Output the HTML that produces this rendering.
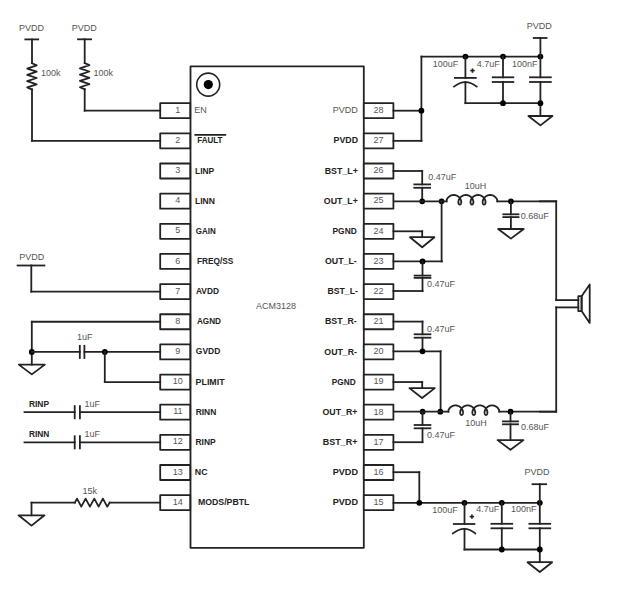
<!DOCTYPE html>
<html><head><meta charset="utf-8"><style>
html,body{margin:0;padding:0;background:#fff;width:618px;height:609px;overflow:hidden}
svg{display:block}
text{font-family:"Liberation Sans",sans-serif}
</style></head><body>
<svg width="618" height="609" viewBox="0 0 618 609" stroke="#222" stroke-linecap="square" stroke-linejoin="round">
<rect x="0" y="0" width="618" height="609" fill="#fff" stroke="none"/>
<g>
<rect x="190.5" y="66.3" width="173.3" height="481.5" fill="none" stroke-width="1.8"/>
<circle cx="208.2" cy="84.6" r="11.5" fill="none" stroke-width="1.6"/>
<circle cx="208.30" cy="84.60" r="4.6" fill="#000" stroke="none"/>
<text stroke="none" x="276.00" y="308.90" font-size="9" text-anchor="middle" fill="#555">ACM3128</text>
<rect x="160.2" y="103.20" width="30" height="15" fill="#fff" stroke-width="1.8"/>
<rect x="363.8" y="103.20" width="29.6" height="15" fill="#fff" stroke-width="1.8"/>
<text stroke="none" x="177.80" y="112.80" font-size="9" text-anchor="middle" fill="#555">1</text>
<text stroke="none" x="378.40" y="113.00" font-size="9" text-anchor="middle" fill="#555">28</text>
<text stroke="none" x="194.30" y="113.10" font-size="9" fill="#555">EN</text>
<text stroke="none" x="357.80" y="113.30" font-size="9" text-anchor="end" fill="#555">PVDD</text>
<rect x="160.2" y="133.35" width="30" height="15" fill="#fff" stroke-width="1.8"/>
<rect x="363.8" y="133.35" width="29.6" height="15" fill="#fff" stroke-width="1.8"/>
<text stroke="none" x="177.80" y="142.95" font-size="9" text-anchor="middle" fill="#555">2</text>
<text stroke="none" x="378.40" y="143.15" font-size="9" text-anchor="middle" fill="#555">27</text>
<text stroke="none" x="197.26" y="143.25" font-size="8.5" font-weight="bold" textLength="25.22" lengthAdjust="spacingAndGlyphs" fill="#222">FAULT</text>
<text stroke="none" x="333.61" y="143.45" font-size="9" font-weight="bold" textLength="24.46" lengthAdjust="spacingAndGlyphs" fill="#222">PVDD</text>
<rect x="160.2" y="163.50" width="30" height="15" fill="#fff" stroke-width="1.8"/>
<rect x="363.8" y="163.50" width="29.6" height="15" fill="#fff" stroke-width="1.8"/>
<text stroke="none" x="177.80" y="173.10" font-size="9" text-anchor="middle" fill="#555">3</text>
<text stroke="none" x="378.40" y="173.30" font-size="9" text-anchor="middle" fill="#555">26</text>
<text stroke="none" x="195.03" y="173.50" font-size="9" font-weight="bold" textLength="19.25" lengthAdjust="spacingAndGlyphs" fill="#222">LINP</text>
<text stroke="none" x="324.71" y="173.60" font-size="9" font-weight="bold" textLength="33.15" lengthAdjust="spacingAndGlyphs" fill="#222">BST_L+</text>
<rect x="160.2" y="193.65" width="30" height="15" fill="#fff" stroke-width="1.8"/>
<rect x="363.8" y="193.65" width="29.6" height="15" fill="#fff" stroke-width="1.8"/>
<text stroke="none" x="177.80" y="203.25" font-size="9" text-anchor="middle" fill="#555">4</text>
<text stroke="none" x="378.40" y="203.45" font-size="9" text-anchor="middle" fill="#555">25</text>
<text stroke="none" x="195.03" y="203.65" font-size="9" font-weight="bold" textLength="19.95" lengthAdjust="spacingAndGlyphs" fill="#222">LINN</text>
<text stroke="none" x="323.84" y="203.75" font-size="9" font-weight="bold" textLength="34.02" lengthAdjust="spacingAndGlyphs" fill="#222">OUT_L+</text>
<rect x="160.2" y="223.80" width="30" height="15" fill="#fff" stroke-width="1.8"/>
<rect x="363.8" y="223.80" width="29.6" height="15" fill="#fff" stroke-width="1.8"/>
<text stroke="none" x="177.80" y="233.40" font-size="9" text-anchor="middle" fill="#555">5</text>
<text stroke="none" x="378.40" y="233.60" font-size="9" text-anchor="middle" fill="#555">24</text>
<text stroke="none" x="195.87" y="233.80" font-size="9" font-weight="bold" textLength="19.96" lengthAdjust="spacingAndGlyphs" fill="#222">GAIN</text>
<text stroke="none" x="332.54" y="233.90" font-size="9" font-weight="bold" textLength="24.22" lengthAdjust="spacingAndGlyphs" fill="#222">PGND</text>
<rect x="160.2" y="253.95" width="30" height="15" fill="#fff" stroke-width="1.8"/>
<rect x="363.8" y="253.95" width="29.6" height="15" fill="#fff" stroke-width="1.8"/>
<text stroke="none" x="177.80" y="263.55" font-size="9" text-anchor="middle" fill="#555">6</text>
<text stroke="none" x="378.40" y="263.75" font-size="9" text-anchor="middle" fill="#555">23</text>
<text stroke="none" x="196.94" y="263.95" font-size="9" font-weight="bold" textLength="36.48" lengthAdjust="spacingAndGlyphs" fill="#222">FREQ/SS</text>
<text stroke="none" x="324.94" y="264.05" font-size="9" font-weight="bold" textLength="31.81" lengthAdjust="spacingAndGlyphs" fill="#222">OUT_L-</text>
<rect x="160.2" y="284.10" width="30" height="15" fill="#fff" stroke-width="1.8"/>
<rect x="363.8" y="284.10" width="29.6" height="15" fill="#fff" stroke-width="1.8"/>
<text stroke="none" x="177.80" y="293.70" font-size="9" text-anchor="middle" fill="#555">7</text>
<text stroke="none" x="378.40" y="293.90" font-size="9" text-anchor="middle" fill="#555">22</text>
<text stroke="none" x="195.99" y="294.10" font-size="9" font-weight="bold" textLength="22.96" lengthAdjust="spacingAndGlyphs" fill="#222">AVDD</text>
<text stroke="none" x="327.52" y="294.20" font-size="9" font-weight="bold" textLength="30.33" lengthAdjust="spacingAndGlyphs" fill="#222">BST_L-</text>
<rect x="160.2" y="314.25" width="30" height="15" fill="#fff" stroke-width="1.8"/>
<rect x="363.8" y="314.25" width="29.6" height="15" fill="#fff" stroke-width="1.8"/>
<text stroke="none" x="177.80" y="323.85" font-size="9" text-anchor="middle" fill="#555">8</text>
<text stroke="none" x="378.40" y="324.05" font-size="9" text-anchor="middle" fill="#555">21</text>
<text stroke="none" x="196.90" y="324.25" font-size="9" font-weight="bold" textLength="24.05" lengthAdjust="spacingAndGlyphs" fill="#222">AGND</text>
<text stroke="none" x="324.91" y="324.35" font-size="9" font-weight="bold" textLength="31.85" lengthAdjust="spacingAndGlyphs" fill="#222">BST_R-</text>
<rect x="160.2" y="344.40" width="30" height="15" fill="#fff" stroke-width="1.8"/>
<rect x="363.8" y="344.40" width="29.6" height="15" fill="#fff" stroke-width="1.8"/>
<text stroke="none" x="177.80" y="354.00" font-size="9" text-anchor="middle" fill="#555">9</text>
<text stroke="none" x="378.40" y="354.20" font-size="9" text-anchor="middle" fill="#555">20</text>
<text stroke="none" x="195.85" y="354.40" font-size="9" font-weight="bold" textLength="24.40" lengthAdjust="spacingAndGlyphs" fill="#222">GVDD</text>
<text stroke="none" x="324.34" y="354.50" font-size="9" font-weight="bold" textLength="32.61" lengthAdjust="spacingAndGlyphs" fill="#222">OUT_R-</text>
<rect x="160.2" y="374.55" width="30" height="15" fill="#fff" stroke-width="1.8"/>
<rect x="363.8" y="374.55" width="29.6" height="15" fill="#fff" stroke-width="1.8"/>
<text stroke="none" x="177.80" y="384.15" font-size="9" text-anchor="middle" fill="#555">10</text>
<text stroke="none" x="378.40" y="384.35" font-size="9" text-anchor="middle" fill="#555">19</text>
<text stroke="none" x="195.61" y="384.55" font-size="9" font-weight="bold" textLength="28.98" lengthAdjust="spacingAndGlyphs" fill="#222">PLIMIT</text>
<text stroke="none" x="331.85" y="384.65" font-size="9" font-weight="bold" textLength="23.80" lengthAdjust="spacingAndGlyphs" fill="#222">PGND</text>
<rect x="160.2" y="404.70" width="30" height="15" fill="#fff" stroke-width="1.8"/>
<rect x="363.8" y="404.70" width="29.6" height="15" fill="#fff" stroke-width="1.8"/>
<text stroke="none" x="177.80" y="414.30" font-size="9" text-anchor="middle" fill="#555">11</text>
<text stroke="none" x="378.40" y="414.50" font-size="9" text-anchor="middle" fill="#555">18</text>
<text stroke="none" x="195.63" y="414.70" font-size="9" font-weight="bold" textLength="20.63" lengthAdjust="spacingAndGlyphs" fill="#222">RINN</text>
<text stroke="none" x="322.54" y="414.80" font-size="9" font-weight="bold" textLength="34.92" lengthAdjust="spacingAndGlyphs" fill="#222">OUT_R+</text>
<rect x="160.2" y="434.85" width="30" height="15" fill="#fff" stroke-width="1.8"/>
<rect x="363.8" y="434.85" width="29.6" height="15" fill="#fff" stroke-width="1.8"/>
<text stroke="none" x="177.80" y="444.45" font-size="9" text-anchor="middle" fill="#555">12</text>
<text stroke="none" x="378.40" y="444.65" font-size="9" text-anchor="middle" fill="#555">17</text>
<text stroke="none" x="195.53" y="444.85" font-size="9" font-weight="bold" textLength="20.15" lengthAdjust="spacingAndGlyphs" fill="#222">RINP</text>
<text stroke="none" x="322.80" y="444.95" font-size="9" font-weight="bold" textLength="34.67" lengthAdjust="spacingAndGlyphs" fill="#222">BST_R+</text>
<rect x="160.2" y="465.00" width="30" height="15" fill="#fff" stroke-width="1.8"/>
<rect x="363.8" y="465.00" width="29.6" height="15" fill="#fff" stroke-width="1.8"/>
<text stroke="none" x="177.80" y="474.60" font-size="9" text-anchor="middle" fill="#555">13</text>
<text stroke="none" x="378.40" y="474.80" font-size="9" text-anchor="middle" fill="#555">16</text>
<text stroke="none" x="194.81" y="475.00" font-size="9" font-weight="bold" textLength="12.73" lengthAdjust="spacingAndGlyphs" fill="#222">NC</text>
<text stroke="none" x="332.69" y="475.10" font-size="9" font-weight="bold" textLength="25.30" lengthAdjust="spacingAndGlyphs" fill="#222">PVDD</text>
<rect x="160.2" y="495.15" width="30" height="15" fill="#fff" stroke-width="1.8"/>
<rect x="363.8" y="495.15" width="29.6" height="15" fill="#fff" stroke-width="1.8"/>
<text stroke="none" x="177.80" y="504.75" font-size="9" text-anchor="middle" fill="#555">14</text>
<text stroke="none" x="378.40" y="504.95" font-size="9" text-anchor="middle" fill="#555">15</text>
<text stroke="none" x="197.91" y="505.15" font-size="9" font-weight="bold" textLength="51.56" lengthAdjust="spacingAndGlyphs" fill="#222">MODS/PBTL</text>
<text stroke="none" x="332.69" y="505.25" font-size="9" font-weight="bold" textLength="25.30" lengthAdjust="spacingAndGlyphs" fill="#222">PVDD</text>
<line x1="194.40" y1="134.90" x2="226.20" y2="134.90" stroke-width="1.6" stroke-linecap="butt"/>
<text stroke="none" x="19.00" y="30.60" font-size="9" fill="#555">PVDD</text>
<line x1="24.40" y1="39.40" x2="39.10" y2="39.40" stroke-width="1.8" stroke-linecap="butt"/>
<line x1="32.00" y1="39.40" x2="32.00" y2="63.20" stroke-width="1.8"/>
<polyline points="32.00,63.20 36.70,65.30 27.20,68.55 36.70,71.70 27.20,74.85 36.70,78.00 27.20,81.15 36.70,84.30 27.20,87.45 32.00,89.50" fill="none" stroke-width="1.8"/>
<line x1="32.00" y1="89.50" x2="32.00" y2="140.85" stroke-width="1.8"/>
<line x1="32.00" y1="140.85" x2="160.20" y2="140.85" stroke-width="1.8"/>
<text stroke="none" x="40.90" y="75.90" font-size="9" fill="#555">100k</text>
<text stroke="none" x="71.80" y="30.60" font-size="9" fill="#555">PVDD</text>
<line x1="77.10" y1="39.30" x2="92.00" y2="39.30" stroke-width="1.8" stroke-linecap="butt"/>
<line x1="84.70" y1="39.30" x2="84.70" y2="63.00" stroke-width="1.8"/>
<polyline points="84.70,63.00 89.40,65.10 79.90,68.35 89.40,71.50 79.90,74.65 89.40,77.80 79.90,80.95 89.40,84.10 79.90,87.25 84.70,89.30" fill="none" stroke-width="1.8"/>
<line x1="84.70" y1="89.30" x2="84.70" y2="110.70" stroke-width="1.8"/>
<line x1="84.70" y1="110.70" x2="160.20" y2="110.70" stroke-width="1.8"/>
<text stroke="none" x="93.50" y="76.00" font-size="9" fill="#555">100k</text>
<text stroke="none" x="19.20" y="260.30" font-size="9" fill="#555">PVDD</text>
<line x1="16.70" y1="265.50" x2="45.30" y2="265.50" stroke-width="1.8" stroke-linecap="butt"/>
<line x1="31.30" y1="265.50" x2="31.30" y2="291.60" stroke-width="1.8"/>
<line x1="31.30" y1="291.60" x2="160.20" y2="291.60" stroke-width="1.8"/>
<line x1="31.80" y1="321.75" x2="160.20" y2="321.75" stroke-width="1.8"/>
<line x1="31.80" y1="321.75" x2="31.80" y2="364.60" stroke-width="1.8"/>
<polygon points="18.80,364.60 44.80,364.60 31.80,374.40" fill="none" stroke-width="1.8"/>
<circle cx="31.80" cy="351.90" r="2.9" fill="#000" stroke="none"/>
<line x1="31.80" y1="351.90" x2="79.80" y2="351.90" stroke-width="1.8"/>
<line x1="79.80" y1="344.90" x2="79.80" y2="358.90" stroke-width="1.8" stroke-linecap="butt"/>
<line x1="84.40" y1="344.90" x2="84.40" y2="358.90" stroke-width="1.8" stroke-linecap="butt"/>
<line x1="84.40" y1="351.90" x2="160.20" y2="351.90" stroke-width="1.8"/>
<circle cx="104.80" cy="351.90" r="2.9" fill="#000" stroke="none"/>
<line x1="104.80" y1="351.90" x2="104.80" y2="382.05" stroke-width="1.8"/>
<line x1="104.80" y1="382.05" x2="160.20" y2="382.05" stroke-width="1.8"/>
<text stroke="none" x="77.00" y="339.70" font-size="9" fill="#555">1uF</text>
<text stroke="none" x="28.94" y="407.30" font-size="9" font-weight="bold" textLength="20.05" lengthAdjust="spacingAndGlyphs" fill="#222">RINP</text>
<line x1="24.50" y1="412.20" x2="74.70" y2="412.20" stroke-width="1.8"/>
<line x1="74.70" y1="405.20" x2="74.70" y2="419.20" stroke-width="1.8" stroke-linecap="butt"/>
<line x1="79.90" y1="405.20" x2="79.90" y2="419.20" stroke-width="1.8" stroke-linecap="butt"/>
<line x1="79.90" y1="412.20" x2="160.20" y2="412.20" stroke-width="1.8"/>
<text stroke="none" x="84.40" y="407.00" font-size="9" fill="#555">1uF</text>
<text stroke="none" x="28.94" y="437.45" font-size="9" font-weight="bold" textLength="20.32" lengthAdjust="spacingAndGlyphs" fill="#222">RINN</text>
<line x1="24.50" y1="442.35" x2="74.70" y2="442.35" stroke-width="1.8"/>
<line x1="74.70" y1="435.35" x2="74.70" y2="449.35" stroke-width="1.8" stroke-linecap="butt"/>
<line x1="79.90" y1="435.35" x2="79.90" y2="449.35" stroke-width="1.8" stroke-linecap="butt"/>
<line x1="79.90" y1="442.35" x2="160.20" y2="442.35" stroke-width="1.8"/>
<text stroke="none" x="84.40" y="437.15" font-size="9" fill="#555">1uF</text>
<line x1="31.50" y1="502.65" x2="74.90" y2="502.65" stroke-width="1.8"/>
<polyline points="74.90,502.65 77.00,498.65 81.30,506.65 85.60,498.65 89.90,506.65 94.30,498.65 98.60,506.65 102.90,498.65 107.20,506.65 109.70,502.65" fill="none" stroke-width="1.8"/>
<line x1="109.70" y1="502.65" x2="160.20" y2="502.65" stroke-width="1.8"/>
<line x1="31.50" y1="502.65" x2="31.50" y2="515.30" stroke-width="1.8"/>
<polygon points="18.50,515.30 44.50,515.30 31.50,525.60" fill="none" stroke-width="1.8"/>
<text stroke="none" x="82.60" y="494.20" font-size="9" fill="#555">15k</text>
<line x1="393.50" y1="110.70" x2="421.40" y2="110.70" stroke-width="1.8"/>
<line x1="393.50" y1="140.85" x2="421.40" y2="140.85" stroke-width="1.8"/>
<line x1="421.40" y1="140.85" x2="421.40" y2="56.60" stroke-width="1.8"/>
<circle cx="421.40" cy="110.70" r="2.9" fill="#000" stroke="none"/>
<line x1="421.40" y1="56.60" x2="540.40" y2="56.60" stroke-width="1.8"/>
<circle cx="465.40" cy="56.60" r="2.9" fill="#000" stroke="none"/>
<circle cx="503.00" cy="56.60" r="2.9" fill="#000" stroke="none"/>
<circle cx="540.40" cy="56.60" r="2.9" fill="#000" stroke="none"/>
<line x1="465.40" y1="56.60" x2="465.40" y2="77.90" stroke-width="1.8"/>
<line x1="454.00" y1="77.90" x2="476.70" y2="77.90" stroke-width="1.8" stroke-linecap="butt"/>
<path d="M454,86.6 Q465.4,77.6 476.7,86.6" fill="none" stroke-width="1.8"/>
<line x1="465.40" y1="82.10" x2="465.40" y2="103.20" stroke-width="1.8"/>
<line x1="465.40" y1="103.20" x2="540.40" y2="103.20" stroke-width="1.8"/>
<line x1="470.30" y1="70.60" x2="474.70" y2="70.60" stroke-width="1.6" stroke-linecap="butt"/>
<line x1="472.50" y1="68.40" x2="472.50" y2="72.80" stroke-width="1.6" stroke-linecap="butt"/>
<line x1="503.00" y1="56.60" x2="503.00" y2="77.30" stroke-width="1.8"/>
<line x1="491.80" y1="77.30" x2="514.20" y2="77.30" stroke-width="1.8" stroke-linecap="butt"/>
<line x1="491.80" y1="82.00" x2="514.20" y2="82.00" stroke-width="1.8" stroke-linecap="butt"/>
<line x1="503.00" y1="82.00" x2="503.00" y2="103.20" stroke-width="1.8"/>
<circle cx="503.00" cy="103.20" r="2.9" fill="#000" stroke="none"/>
<line x1="532.80" y1="38.00" x2="547.50" y2="38.00" stroke-width="1.8" stroke-linecap="butt"/>
<line x1="540.40" y1="38.00" x2="540.40" y2="77.30" stroke-width="1.8"/>
<line x1="529.10" y1="77.30" x2="551.70" y2="77.30" stroke-width="1.8" stroke-linecap="butt"/>
<line x1="529.10" y1="82.00" x2="551.70" y2="82.00" stroke-width="1.8" stroke-linecap="butt"/>
<line x1="540.40" y1="82.00" x2="540.40" y2="116.00" stroke-width="1.8"/>
<circle cx="540.40" cy="103.20" r="2.9" fill="#000" stroke="none"/>
<polygon points="528.40,116.00 552.40,116.00 540.40,125.40" fill="none" stroke-width="1.8"/>
<text stroke="none" x="526.80" y="29.20" font-size="9" fill="#555">PVDD</text>
<text stroke="none" x="432.70" y="66.50" font-size="9" fill="#555">100uF</text>
<text stroke="none" x="499.80" y="66.70" font-size="9" text-anchor="end" fill="#555">4.7uF</text>
<text stroke="none" x="512.00" y="66.90" font-size="9" fill="#555">100nF</text>
<line x1="393.50" y1="171.00" x2="422.20" y2="171.00" stroke-width="1.8"/>
<line x1="422.20" y1="171.00" x2="422.20" y2="184.40" stroke-width="1.8"/>
<line x1="413.40" y1="184.40" x2="431.00" y2="184.40" stroke-width="1.8" stroke-linecap="butt"/>
<line x1="413.40" y1="187.80" x2="431.00" y2="187.80" stroke-width="1.8" stroke-linecap="butt"/>
<line x1="422.20" y1="187.80" x2="422.20" y2="201.30" stroke-width="1.8"/>
<circle cx="422.20" cy="201.30" r="2.9" fill="#000" stroke="none"/>
<circle cx="441.60" cy="201.30" r="2.9" fill="#000" stroke="none"/>
<polyline points="446.79,201.30 446.69,199.80 446.80,199.54 446.92,199.27 447.06,199.01 447.21,198.75 447.37,198.50 447.54,198.25 447.72,198.00 447.92,197.76 448.12,197.52 448.34,197.29 448.57,197.07 448.80,196.86 449.05,196.65 449.30,196.46 449.57,196.28 449.84,196.10 450.12,195.94 450.41,195.79 450.70,195.65 451.00,195.52 451.30,195.41 451.61,195.31 451.93,195.22 452.24,195.15 452.56,195.09 452.89,195.05 453.21,195.02 453.54,195.00 453.86,195.00 454.19,195.01 454.52,195.04 454.84,195.09 455.16,195.14 455.48,195.21 455.79,195.30 456.10,195.39 456.41,195.51 456.71,195.63 457.00,195.77 457.29,195.92 457.57,196.08 457.84,196.25 458.11,196.43 458.37,196.63 458.61,196.83 458.85,197.04 459.08,197.26 459.30,197.49 459.50,197.72 459.70,197.96 459.88,198.21 460.06,198.46 460.22,198.72 460.37,198.97 460.51,199.24 460.63,199.50 460.75,199.76 460.85,200.03 460.94,200.29 461.02,200.55 461.08,200.81 461.14,201.07 461.18,201.32 461.21,201.57 461.23,201.81 461.24,202.05 461.24,202.28 461.23,202.50 461.20,202.71 461.17,202.92 461.13,203.11 461.08,203.30 461.02,203.47 460.96,203.64 460.88,203.79 460.80,203.93 460.72,204.06 460.63,204.17 460.53,204.28 460.43,204.37 460.32,204.44 460.22,204.50 460.11,204.55 459.99,204.58 459.88,204.60 459.77,204.60 459.65,204.59 459.54,204.56 459.43,204.52 459.32,204.47 459.22,204.40 459.11,204.32 459.01,204.22 458.92,204.11 458.83,203.99 458.75,203.85 458.67,203.71 458.61,203.55 458.54,203.38 458.49,203.19 458.45,203.00 458.41,202.80 458.38,202.59 458.37,202.37 458.36,202.15 458.36,201.91 458.38,201.67 458.41,201.43 458.44,201.18 458.49,200.92 458.55,200.66 458.63,200.40 458.71,200.14 458.81,199.88 458.92,199.61 459.04,199.35 459.17,199.09 459.32,198.83 459.47,198.57 459.64,198.32 459.82,198.07 460.01,197.82 460.21,197.59 460.43,197.36 460.65,197.13 460.88,196.92 461.13,196.71 461.38,196.51 461.64,196.33 461.91,196.15 462.19,195.98 462.47,195.83 462.76,195.69 463.06,195.56 463.37,195.44 463.67,195.34 463.99,195.25 464.30,195.17 464.62,195.11 464.95,195.06 465.27,195.02 465.60,195.01 465.92,195.00 466.25,195.01 466.57,195.03 466.90,195.07 467.22,195.12 467.54,195.19 467.85,195.27 468.17,195.37 468.47,195.47 468.77,195.59 469.07,195.73 469.36,195.87 469.64,196.03 469.92,196.20 470.18,196.38 470.44,196.57 470.69,196.77 470.93,196.98 471.16,197.20 471.38,197.42 471.59,197.65 471.79,197.89 471.98,198.14 472.16,198.39 472.32,198.64 472.48,198.90 472.62,199.16 472.75,199.42 472.87,199.69 472.97,199.95 473.06,200.21 473.15,200.48 473.22,200.74 473.27,200.99 473.32,201.25 473.35,201.50 473.38,201.74 473.39,201.98 473.39,202.21 473.38,202.44 473.36,202.65 473.33,202.86 473.29,203.06 473.25,203.25 473.19,203.43 473.13,203.59 473.05,203.75 472.98,203.89 472.89,204.02 472.80,204.14 472.71,204.25 472.61,204.34 472.50,204.42 472.40,204.48 472.29,204.53 472.18,204.57 472.06,204.59 471.95,204.60 471.84,204.59 471.72,204.57 471.61,204.53 471.50,204.48 471.40,204.42 471.29,204.34 471.19,204.25 471.10,204.14 471.01,204.02 470.92,203.89 470.85,203.75 470.77,203.59 470.71,203.43 470.65,203.25 470.61,203.06 470.57,202.86 470.54,202.65 470.52,202.44 470.51,202.21 470.51,201.98 470.52,201.74 470.55,201.50 470.58,201.25 470.63,200.99 470.68,200.74 470.75,200.48 470.84,200.21 470.93,199.95 471.03,199.69 471.15,199.42 471.28,199.16 471.42,198.90 471.58,198.64 471.74,198.39 471.92,198.14 472.11,197.89 472.31,197.65 472.52,197.42 472.74,197.20 472.97,196.98 473.21,196.77 473.46,196.57 473.72,196.38 473.98,196.20 474.26,196.03 474.54,195.87 474.83,195.73 475.13,195.59 475.43,195.47 475.73,195.37 476.05,195.27 476.36,195.19 476.68,195.12 477.00,195.07 477.33,195.03 477.65,195.01 477.98,195.00 478.30,195.01 478.63,195.02 478.95,195.06 479.28,195.11 479.60,195.17 479.91,195.25 480.23,195.34 480.53,195.44 480.84,195.56 481.14,195.69 481.43,195.83 481.71,195.98 481.99,196.15 482.26,196.33 482.52,196.51 482.77,196.71 483.02,196.92 483.25,197.13 483.47,197.36 483.69,197.59 483.89,197.82 484.08,198.07 484.26,198.32 484.43,198.57 484.58,198.83 484.73,199.09 484.86,199.35 484.98,199.61 485.09,199.88 485.19,200.14 485.27,200.40 485.35,200.66 485.41,200.92 485.46,201.18 485.49,201.43 485.52,201.67 485.54,201.91 485.54,202.15 485.53,202.37 485.52,202.59 485.49,202.80 485.45,203.00 485.41,203.19 485.36,203.38 485.29,203.55 485.23,203.71 485.15,203.85 485.07,203.99 484.98,204.11 484.89,204.22 484.79,204.32 484.68,204.40 484.58,204.47 484.47,204.52 484.36,204.56 484.25,204.59 484.13,204.60 484.02,204.60 483.91,204.58 483.79,204.55 483.68,204.50 483.58,204.44 483.47,204.37 483.37,204.28 483.27,204.17 483.18,204.06 483.10,203.93 483.02,203.79 482.94,203.64 482.88,203.47 482.82,203.30 482.77,203.11 482.73,202.92 482.70,202.71 482.67,202.50 482.66,202.28 482.66,202.05 482.67,201.81 482.69,201.57 482.72,201.32 482.76,201.07 482.82,200.81 482.88,200.55 482.96,200.29 483.05,200.03 483.15,199.76 483.27,199.50 483.39,199.24 483.53,198.97 483.68,198.72 483.84,198.46 484.02,198.21 484.20,197.96 484.40,197.72 484.60,197.49 484.82,197.26 485.05,197.04 485.29,196.83 485.53,196.63 485.79,196.43 486.06,196.25 486.33,196.08 486.61,195.92 486.90,195.77 487.19,195.63 487.49,195.51 487.80,195.39 488.11,195.30 488.42,195.21 488.74,195.14 489.06,195.09 489.38,195.04 489.71,195.01 490.04,195.00 490.36,195.00 490.69,195.02 491.01,195.05 491.34,195.09 491.66,195.15 491.97,195.22 492.29,195.31 492.60,195.41 492.90,195.52 493.20,195.65 493.49,195.79 493.78,195.94 494.06,196.10 494.33,196.28 494.60,196.46 494.85,196.65 495.10,196.86 495.33,197.07 495.56,197.29 495.78,197.52 495.98,197.76 496.18,198.00 496.36,198.25 496.53,198.50 496.69,198.75 496.84,199.01 496.98,199.27 497.10,199.54 497.21,199.80 497.11,201.30" fill="none" stroke-width="1.8"/>
<line x1="393.50" y1="201.30" x2="446.79" y2="201.30" stroke-width="1.8" stroke-linecap="butt"/>
<line x1="497.11" y1="201.30" x2="556.20" y2="201.30" stroke-width="1.8" stroke-linecap="butt"/>
<line x1="540.00" y1="201.30" x2="556.20" y2="201.30" stroke-width="1.8"/>
<circle cx="510.90" cy="201.30" r="2.9" fill="#000" stroke="none"/>
<line x1="510.90" y1="201.30" x2="510.90" y2="214.30" stroke-width="1.8"/>
<line x1="502.40" y1="214.30" x2="519.40" y2="214.30" stroke-width="1.8" stroke-linecap="butt"/>
<line x1="502.40" y1="217.10" x2="519.40" y2="217.10" stroke-width="1.8" stroke-linecap="butt"/>
<line x1="510.90" y1="217.10" x2="510.90" y2="229.00" stroke-width="1.8"/>
<polygon points="498.10,229.00 523.70,229.00 510.90,238.60" fill="none" stroke-width="1.8"/>
<text stroke="none" x="428.20" y="179.50" font-size="9" fill="#555">0.47uF</text>
<text stroke="none" x="464.80" y="189.20" font-size="9" fill="#555">10uH</text>
<text stroke="none" x="520.80" y="219.30" font-size="9" fill="#555">0.68uF</text>
<line x1="393.50" y1="231.30" x2="422.20" y2="231.30" stroke-width="1.8"/>
<line x1="422.20" y1="231.30" x2="422.20" y2="237.20" stroke-width="1.8"/>
<polygon points="410.00,237.20 434.40,237.20 422.20,247.30" fill="none" stroke-width="1.8"/>
<line x1="393.50" y1="261.40" x2="442.00" y2="261.40" stroke-width="1.8"/>
<circle cx="422.50" cy="261.40" r="2.9" fill="#000" stroke="none"/>
<line x1="441.60" y1="261.40" x2="441.60" y2="201.30" stroke-width="1.8"/>
<line x1="422.50" y1="261.40" x2="422.50" y2="275.60" stroke-width="1.8"/>
<line x1="413.70" y1="275.60" x2="431.30" y2="275.60" stroke-width="1.8" stroke-linecap="butt"/>
<line x1="413.70" y1="277.90" x2="431.30" y2="277.90" stroke-width="1.8" stroke-linecap="butt"/>
<line x1="422.50" y1="277.90" x2="422.50" y2="291.00" stroke-width="1.8"/>
<line x1="393.50" y1="291.00" x2="422.50" y2="291.00" stroke-width="1.8"/>
<text stroke="none" x="427.10" y="286.70" font-size="9" fill="#555">0.47uF</text>
<line x1="556.20" y1="201.30" x2="556.20" y2="300.10" stroke-width="1.8"/>
<line x1="556.20" y1="300.10" x2="578.30" y2="300.10" stroke-width="1.8"/>
<line x1="556.20" y1="307.40" x2="578.30" y2="307.40" stroke-width="1.8"/>
<line x1="556.20" y1="307.40" x2="556.20" y2="411.70" stroke-width="1.8"/>
<rect x="578.3" y="296.2" width="3.3" height="14.9" fill="none" stroke-width="1.8"/>
<polygon points="581.60,296.20 589.70,284.40 589.70,322.90 581.60,311.10" fill="none" stroke-width="1.8"/>
<line x1="393.50" y1="321.60" x2="422.50" y2="321.60" stroke-width="1.8"/>
<line x1="422.50" y1="321.60" x2="422.50" y2="334.30" stroke-width="1.8"/>
<line x1="413.70" y1="334.30" x2="431.30" y2="334.30" stroke-width="1.8" stroke-linecap="butt"/>
<line x1="413.70" y1="337.70" x2="431.30" y2="337.70" stroke-width="1.8" stroke-linecap="butt"/>
<line x1="422.50" y1="337.70" x2="422.50" y2="351.30" stroke-width="1.8"/>
<line x1="393.50" y1="351.30" x2="440.60" y2="351.30" stroke-width="1.8"/>
<circle cx="422.50" cy="351.30" r="2.9" fill="#000" stroke="none"/>
<line x1="440.60" y1="351.30" x2="440.60" y2="411.70" stroke-width="1.8"/>
<text stroke="none" x="427.10" y="331.50" font-size="9" fill="#555">0.47uF</text>
<line x1="393.50" y1="382.05" x2="422.20" y2="382.05" stroke-width="1.8"/>
<line x1="422.20" y1="382.05" x2="422.20" y2="388.10" stroke-width="1.8"/>
<polygon points="409.40,388.10 434.80,388.10 422.10,398.00" fill="none" stroke-width="1.8"/>
<circle cx="422.60" cy="411.70" r="2.9" fill="#000" stroke="none"/>
<circle cx="440.30" cy="411.70" r="2.9" fill="#000" stroke="none"/>
<polyline points="448.55,411.70 448.45,410.20 448.56,409.94 448.69,409.67 448.82,409.41 448.97,409.15 449.13,408.90 449.31,408.65 449.49,408.40 449.68,408.16 449.89,407.92 450.11,407.69 450.33,407.47 450.57,407.26 450.82,407.05 451.07,406.86 451.34,406.68 451.61,406.50 451.89,406.34 452.18,406.19 452.47,406.05 452.77,405.92 453.07,405.81 453.38,405.71 453.70,405.62 454.02,405.55 454.34,405.49 454.66,405.45 454.99,405.42 455.31,405.40 455.64,405.40 455.97,405.41 456.29,405.44 456.62,405.49 456.94,405.54 457.26,405.61 457.57,405.70 457.88,405.79 458.19,405.91 458.49,406.03 458.78,406.17 459.07,406.32 459.35,406.48 459.63,406.65 459.89,406.83 460.15,407.03 460.40,407.23 460.63,407.44 460.86,407.66 461.08,407.89 461.29,408.12 461.48,408.36 461.67,408.61 461.84,408.86 462.00,409.12 462.15,409.37 462.29,409.64 462.42,409.90 462.53,410.16 462.64,410.43 462.73,410.69 462.81,410.95 462.87,411.21 462.93,411.47 462.97,411.72 463.00,411.97 463.02,412.21 463.03,412.45 463.03,412.68 463.02,412.90 463.00,413.11 462.96,413.32 462.92,413.51 462.87,413.70 462.82,413.87 462.75,414.04 462.68,414.19 462.60,414.33 462.51,414.46 462.42,414.57 462.33,414.68 462.23,414.77 462.12,414.84 462.01,414.90 461.90,414.95 461.79,414.98 461.68,415.00 461.57,415.00 461.45,414.99 461.34,414.96 461.23,414.92 461.12,414.87 461.02,414.80 460.92,414.72 460.82,414.62 460.72,414.51 460.64,414.39 460.55,414.25 460.48,414.11 460.41,413.95 460.35,413.78 460.30,413.59 460.25,413.40 460.22,413.20 460.19,412.99 460.17,412.77 460.17,412.55 460.17,412.31 460.19,412.07 460.22,411.83 460.25,411.58 460.30,411.32 460.36,411.06 460.44,410.80 460.52,410.54 460.62,410.28 460.73,410.01 460.85,409.75 460.98,409.49 461.13,409.23 461.29,408.97 461.46,408.72 461.64,408.47 461.83,408.22 462.03,407.99 462.24,407.76 462.47,407.53 462.70,407.32 462.95,407.11 463.20,406.91 463.46,406.73 463.73,406.55 464.01,406.38 464.29,406.23 464.58,406.09 464.88,405.96 465.19,405.84 465.50,405.74 465.81,405.65 466.13,405.57 466.45,405.51 466.77,405.46 467.09,405.42 467.42,405.41 467.75,405.40 468.07,405.41 468.40,405.43 468.72,405.47 469.05,405.52 469.36,405.59 469.68,405.67 469.99,405.77 470.30,405.87 470.60,405.99 470.90,406.13 471.19,406.27 471.47,406.43 471.75,406.60 472.02,406.78 472.28,406.97 472.53,407.17 472.77,407.38 473.00,407.60 473.22,407.82 473.43,408.05 473.63,408.29 473.82,408.54 473.99,408.79 474.16,409.04 474.31,409.30 474.46,409.56 474.59,409.82 474.70,410.09 474.81,410.35 474.90,410.61 474.98,410.88 475.05,411.14 475.11,411.39 475.16,411.65 475.19,411.90 475.22,412.14 475.23,412.38 475.23,412.61 475.22,412.84 475.20,413.05 475.17,413.26 475.14,413.46 475.09,413.65 475.03,413.83 474.97,413.99 474.90,414.15 474.82,414.29 474.74,414.42 474.65,414.54 474.55,414.65 474.46,414.74 474.35,414.82 474.25,414.88 474.14,414.93 474.03,414.97 473.91,414.99 473.80,415.00 473.69,414.99 473.57,414.97 473.46,414.93 473.35,414.88 473.25,414.82 473.14,414.74 473.05,414.65 472.95,414.54 472.86,414.42 472.78,414.29 472.70,414.15 472.63,413.99 472.57,413.83 472.51,413.65 472.46,413.46 472.43,413.26 472.40,413.05 472.38,412.84 472.37,412.61 472.37,412.38 472.38,412.14 472.41,411.90 472.44,411.65 472.49,411.39 472.55,411.14 472.62,410.88 472.70,410.61 472.79,410.35 472.90,410.09 473.01,409.82 473.14,409.56 473.29,409.30 473.44,409.04 473.61,408.79 473.78,408.54 473.97,408.29 474.17,408.05 474.38,407.82 474.60,407.60 474.83,407.38 475.07,407.17 475.32,406.97 475.58,406.78 475.85,406.60 476.13,406.43 476.41,406.27 476.70,406.13 477.00,405.99 477.30,405.87 477.61,405.77 477.92,405.67 478.24,405.59 478.55,405.52 478.88,405.47 479.20,405.43 479.53,405.41 479.85,405.40 480.18,405.41 480.51,405.42 480.83,405.46 481.15,405.51 481.47,405.57 481.79,405.65 482.10,405.74 482.41,405.84 482.72,405.96 483.02,406.09 483.31,406.23 483.59,406.38 483.87,406.55 484.14,406.73 484.40,406.91 484.65,407.11 484.90,407.32 485.13,407.53 485.36,407.76 485.57,407.99 485.77,408.22 485.96,408.47 486.14,408.72 486.31,408.97 486.47,409.23 486.62,409.49 486.75,409.75 486.87,410.01 486.98,410.28 487.08,410.54 487.16,410.80 487.24,411.06 487.30,411.32 487.35,411.58 487.38,411.83 487.41,412.07 487.43,412.31 487.43,412.55 487.43,412.77 487.41,412.99 487.38,413.20 487.35,413.40 487.30,413.59 487.25,413.78 487.19,413.95 487.12,414.11 487.05,414.25 486.96,414.39 486.88,414.51 486.78,414.62 486.68,414.72 486.58,414.80 486.48,414.87 486.37,414.92 486.26,414.96 486.15,414.99 486.03,415.00 485.92,415.00 485.81,414.98 485.70,414.95 485.59,414.90 485.48,414.84 485.37,414.77 485.27,414.68 485.18,414.57 485.09,414.46 485.00,414.33 484.92,414.19 484.85,414.04 484.78,413.87 484.73,413.70 484.68,413.51 484.64,413.32 484.60,413.11 484.58,412.90 484.57,412.68 484.57,412.45 484.58,412.21 484.60,411.97 484.63,411.72 484.67,411.47 484.73,411.21 484.79,410.95 484.87,410.69 484.96,410.43 485.07,410.16 485.18,409.90 485.31,409.64 485.45,409.37 485.60,409.12 485.76,408.86 485.93,408.61 486.12,408.36 486.31,408.12 486.52,407.89 486.74,407.66 486.97,407.44 487.20,407.23 487.45,407.03 487.71,406.83 487.97,406.65 488.25,406.48 488.53,406.32 488.82,406.17 489.11,406.03 489.41,405.91 489.72,405.79 490.03,405.70 490.34,405.61 490.66,405.54 490.98,405.49 491.31,405.44 491.63,405.41 491.96,405.40 492.29,405.40 492.61,405.42 492.94,405.45 493.26,405.49 493.58,405.55 493.90,405.62 494.22,405.71 494.53,405.81 494.83,405.92 495.13,406.05 495.42,406.19 495.71,406.34 495.99,406.50 496.26,406.68 496.53,406.86 496.78,407.05 497.03,407.26 497.27,407.47 497.49,407.69 497.71,407.92 497.92,408.16 498.11,408.40 498.29,408.65 498.47,408.90 498.63,409.15 498.78,409.41 498.91,409.67 499.04,409.94 499.15,410.20 499.05,411.70" fill="none" stroke-width="1.8"/>
<line x1="393.50" y1="411.70" x2="448.55" y2="411.70" stroke-width="1.8" stroke-linecap="butt"/>
<line x1="499.05" y1="411.70" x2="556.20" y2="411.70" stroke-width="1.8" stroke-linecap="butt"/>
<line x1="540.00" y1="411.70" x2="556.20" y2="411.70" stroke-width="1.8"/>
<circle cx="510.50" cy="411.70" r="2.9" fill="#000" stroke="none"/>
<line x1="510.50" y1="411.70" x2="510.50" y2="421.40" stroke-width="1.8"/>
<line x1="502.10" y1="421.40" x2="518.90" y2="421.40" stroke-width="1.8" stroke-linecap="butt"/>
<line x1="502.10" y1="424.30" x2="518.90" y2="424.30" stroke-width="1.8" stroke-linecap="butt"/>
<line x1="510.50" y1="424.30" x2="510.50" y2="440.10" stroke-width="1.8"/>
<polygon points="497.60,440.10 523.40,440.10 510.50,449.80" fill="none" stroke-width="1.8"/>
<line x1="422.50" y1="411.70" x2="422.50" y2="425.00" stroke-width="1.8"/>
<line x1="413.70" y1="425.00" x2="431.30" y2="425.00" stroke-width="1.8" stroke-linecap="butt"/>
<line x1="413.70" y1="428.30" x2="431.30" y2="428.30" stroke-width="1.8" stroke-linecap="butt"/>
<line x1="422.50" y1="428.30" x2="422.50" y2="442.20" stroke-width="1.8"/>
<line x1="393.50" y1="442.20" x2="422.50" y2="442.20" stroke-width="1.8"/>
<text stroke="none" x="427.10" y="437.70" font-size="9" fill="#555">0.47uF</text>
<text stroke="none" x="465.30" y="425.70" font-size="9" fill="#555">10uH</text>
<text stroke="none" x="521.10" y="429.50" font-size="9" fill="#555">0.68uF</text>
<line x1="393.50" y1="472.20" x2="419.30" y2="472.20" stroke-width="1.8"/>
<line x1="419.30" y1="472.20" x2="419.30" y2="502.80" stroke-width="1.8"/>
<line x1="393.50" y1="502.80" x2="539.80" y2="502.80" stroke-width="1.8"/>
<circle cx="419.30" cy="502.80" r="2.9" fill="#000" stroke="none"/>
<circle cx="464.50" cy="502.80" r="2.9" fill="#000" stroke="none"/>
<circle cx="501.80" cy="502.80" r="2.9" fill="#000" stroke="none"/>
<circle cx="539.80" cy="502.80" r="2.9" fill="#000" stroke="none"/>
<line x1="464.50" y1="502.80" x2="464.50" y2="524.00" stroke-width="1.8"/>
<line x1="452.90" y1="524.00" x2="475.30" y2="524.00" stroke-width="1.8" stroke-linecap="butt"/>
<path d="M452.9,533.4 Q464.5,524.3 475.3,533.4" fill="none" stroke-width="1.8"/>
<line x1="464.50" y1="528.80" x2="464.50" y2="549.50" stroke-width="1.8"/>
<line x1="464.50" y1="549.50" x2="539.80" y2="549.50" stroke-width="1.8"/>
<line x1="469.70" y1="516.60" x2="474.10" y2="516.60" stroke-width="1.6" stroke-linecap="butt"/>
<line x1="471.90" y1="514.40" x2="471.90" y2="518.80" stroke-width="1.6" stroke-linecap="butt"/>
<line x1="501.80" y1="502.80" x2="501.80" y2="523.80" stroke-width="1.8"/>
<line x1="490.50" y1="523.80" x2="513.10" y2="523.80" stroke-width="1.8" stroke-linecap="butt"/>
<line x1="490.50" y1="528.30" x2="513.10" y2="528.30" stroke-width="1.8" stroke-linecap="butt"/>
<line x1="501.80" y1="528.30" x2="501.80" y2="549.50" stroke-width="1.8"/>
<circle cx="501.80" cy="549.50" r="2.9" fill="#000" stroke="none"/>
<line x1="531.60" y1="484.20" x2="547.00" y2="484.20" stroke-width="1.8" stroke-linecap="butt"/>
<line x1="539.80" y1="484.20" x2="539.80" y2="523.80" stroke-width="1.8"/>
<line x1="528.50" y1="523.80" x2="551.10" y2="523.80" stroke-width="1.8" stroke-linecap="butt"/>
<line x1="528.50" y1="528.30" x2="551.10" y2="528.30" stroke-width="1.8" stroke-linecap="butt"/>
<line x1="539.80" y1="528.30" x2="539.80" y2="562.20" stroke-width="1.8"/>
<circle cx="539.80" cy="549.50" r="2.9" fill="#000" stroke="none"/>
<polygon points="527.50,562.20 552.10,562.20 539.80,572.00" fill="none" stroke-width="1.8"/>
<text stroke="none" x="524.40" y="474.90" font-size="9" fill="#555">PVDD</text>
<text stroke="none" x="432.20" y="512.80" font-size="9" fill="#555">100uF</text>
<text stroke="none" x="476.20" y="511.90" font-size="9" fill="#555">4.7uF</text>
<text stroke="none" x="511.00" y="512.00" font-size="9" fill="#555">100nF</text>
</g>
</svg>
</body></html>
